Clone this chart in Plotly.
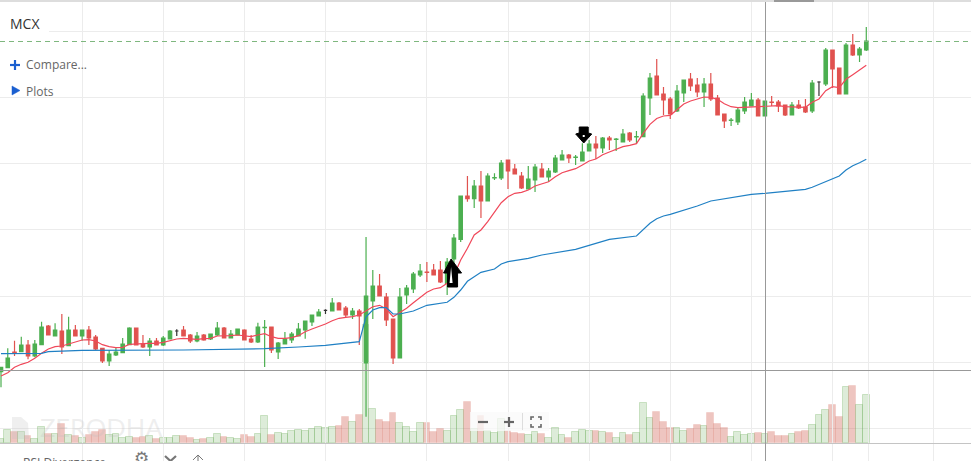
import plotly.graph_objects as go

W = 971
H = 461

# candles, no price labels in the original so units are just chart units
open_ = [-1.7, 2.3, 18, 18.3, 25, 14, 25.3, 44, 34, 39,
         24.3, 40, 34, 40, 33, 21.7, 9, 15, 17.3, 25.3,
         42, 26, 23, 29, 25, 31, 39, 40, 35, 29,
         35, 31, 35, 42, 32, 35, 40, 31, 28, 42.3,
         43, 18, 26, 30, 34, 40, 48, 54, 59.7, 59,
         67, 62, 55, 59, 7, 69, 84, 73, 51, 12,
         75, 81, 95, 98, 100, 100, 86.7, 111, 130.7, 174,
         171.3, 184, 169, 192, 192, 210, 201, 194, 181, 190,
         201, 193, 198, 210, 215, 212.7, 209, 219, 226, 222,
         232, 230.7, 228, 237, 233, 233.3, 272, 294, 276, 271,
         259, 277, 291, 285, 278, 286, 272, 256, 249.7, 248,
         259, 264, 270, 254, 268, 268, 265, 255, 265, 263,
         259, 288, 286, 320, 302, 276, 325, 315, 320]
close = [2.7, 12, 16.7, 25, 14, 26, 43, 35, 40, 23,
         40, 34, 40, 32, 21, 9, 16, 18, 26, 42,
         25, 23, 29, 25, 32, 39, 39, 34, 29, 34,
         30, 36, 42, 32, 36, 41, 30, 28, 43, 42.7,
         20, 27, 31, 36, 41, 49, 55, 58, 59.7, 67,
         60, 55, 59, 54, 74, 84, 74, 50, 12, 73,
         82, 96, 99, 97.5, 95, 88, 108, 132, 174, 171.3,
         184, 169, 194, 192.5, 207, 199, 196, 182, 191, 203,
         193, 199, 212, 215, 212, 213, 218, 226, 222, 232,
         230, 231, 236, 230, 233.3, 274, 292, 275, 270, 256,
         279, 290, 284, 278, 286, 271, 255, 249, 250, 260,
         268, 270, 254, 269, 267.5, 264, 255, 265, 262, 258,
         287, 288, 320, 301, 276, 325, 315, 321, 329]
high = [2.7, 21.7, 29.3, 33.3, 30, 30, 48.3, 45, 46.7, 56,
        53.3, 45, 40, 44, 35, 21.7, 20, 22.7, 32, 42.7,
        42, 35, 32, 32, 34, 40, 40.7, 44, 36, 38,
        36, 36, 48, 43, 40, 41, 40.7, 35, 47.3, 50,
        43, 28, 38, 38, 47, 49, 55, 61, 60.7, 72,
        68, 64, 62, 61, 133, 100, 96, 77, 51, 82,
        85, 98, 106, 108, 106, 109, 112, 136, 174, 194,
        190, 199, 196.7, 196.7, 210, 210, 206, 198, 204, 206,
        207, 202, 215, 220, 216, 215, 226.7, 230, 234, 233,
        234, 232, 241, 238, 239, 276.7, 297, 311, 283, 273,
        285, 290, 297, 292, 292, 297, 275, 256, 252, 262,
        273, 277, 272, 269, 274, 270, 265, 268, 270, 271,
        290, 288.7, 322, 320, 302, 327, 336, 323, 343]
low = [-17.3, 2.3, 14, 18.3, 10.7, 12.7, 25.3, 35, 34, 16,
       24, 34, 29.3, 25, 20, 7, 4, 14, 17.3, 25.3,
       25, 22, 14, 25, 24, 31, 34, 34, 27, 27.7,
       29.3, 30, 34, 32, 32, 35, 30, 27, 27, 3,
       17, 11, 26, 27, 34, 31.3, 44, 54, 56, 59,
       60, 53, 51, 25, -46.7, 51, 74, 44, 6, 12,
       66, 77, 93, 88, 95, 87, 75, 85, 128, 168.3,
       162, 152, 169, 190, 190, 181, 196, 181, 181, 178,
       193, 188, 197, 210, 207, 205, 209, 219, 211, 217,
       220, 219, 228, 228, 226, 233.3, 255, 275, 255, 251,
       258, 268, 279, 273, 263, 269, 255, 242, 244, 245,
       256, 264, 254, 254, 264, 258, 254, 255, 261, 257,
       257, 274, 284, 282, 276, 276, 314, 308, 319]
volume = [4.3, 13.3, 11, 11, 6.7, 4.3, 15.7, 9.3, 9.3, 18.7,
          8.3, 6.7, 5.3, 7.7, 11.3, 12.7, 7.7, 8.7, 5.3, 6,
          4.7, 5.7, 7.3, 3.7, 5.3, 5.3, 6.7, 6.7, 4.7, 3.3,
          4.3, 5.3, 9.3, 5.7, 4.7, 4.3, 7.7, 5.7, 9.3, 27.3,
          7.7, 10.3, 9.3, 12.3, 13.3, 12.3, 14, 16, 15, 16,
          17, 26, 21, 28, 118, 34, 23, 20.7, 30.3, 20,
          16, 11, 20.3, 20.3, 11, 14, 12, 27, 33, 41,
          14, 27, 12, 10, 24, 12, 10, 9, 8, 11,
          9, 5, 15, 8, 5, 11, 13, 12, 12, 11,
          10, 5, 10, 8, 10, 40, 25, 31, 21, 15,
          15, 12, 14, 18, 17, 30, 19, 15, 6, 11,
          8, 9, 10, 9, 11, 7, 7, 9, 11, 12,
          18, 28, 33, 38, 26, 56, 57, 38, 48]
fast_ma = [-6, -2.7, 2.7, 5.7, 7.7, 11.7, 16.7, 21, 23.3, 24,
           26, 28.3, 30, 30.3, 29, 25.3, 23.3, 22.3, 22.7, 25.7,
           26.3, 26.3, 26.7, 26.7, 27.7, 29.3, 31, 31.7, 31.3, 30.7,
           31.3, 31.7, 34, 34, 34.3, 35, 34, 33.3, 35, 36.3,
           33.3, 31.7, 31.7, 32.3, 34.3, 38.3, 41, 43.3, 46, 49.3,
           51.7, 52.7, 53.3, 55, 59.3, 63.3, 64.7, 61, 53.3, 57.3,
           61.7, 67.3, 72.7, 77.7, 81, 82.3, 86.7, 94.3, 110, 121.7,
           135, 140, 148.3, 158.3, 167.3, 173.3, 176.7, 177.7, 180, 184,
           186, 188.3, 193.3, 197.3, 199.3, 201.3, 205, 209, 211, 215.3,
           218, 220.7, 223.3, 224.7, 226.3, 236.7, 245.7, 251.5, 254, 254.7,
           260, 266, 269, 270.7, 273, 272.7, 270.7, 266.3, 263.3, 262.3,
           262.7, 263, 263.3, 264, 264.3, 264.3, 263.3, 263, 263, 262.7,
           267.7, 271, 279.3, 283.3, 282.3, 290.7, 295.3, 299.7, 304.7]
slow_x = [0, 6, 7, 12, 27, 39, 44, 48, 53, 54, 55, 56, 57, 58, 59, 61, 63, 66, 67, 68, 69,
          70, 71, 73, 74, 75, 78, 80, 81, 82, 85, 88, 90, 94, 95, 96, 97, 98, 99,
          103, 105, 106, 111, 113, 119, 120, 121, 123, 124, 125, 126, 127, 128]
slow_ma = [16.3, 16.7, 18.3, 19.7, 20, 21.3, 23, 24.7, 28.3, 53.3, 60, 62.3, 62.3, 56, 56, 59, 64.7, 67.7, 72.7, 80, 88.7,
           93.3, 97.7, 101, 106, 108.3, 111.7, 115, 116, 117.7, 120.7, 126.7, 130.7, 134, 140, 146.7, 151.3, 154, 155.7,
           164, 169, 170, 175.7, 176.7, 180.7, 182.7, 185.7, 191.7, 194, 200, 204.3, 207.3, 210.7]

# small black doji candles
black_idx = [26, 48, 121]
last_price = 328.5
up_signal = (66.8, 83)
down_signal = (86.2, 227)

grid_y = [339, 273, 207, 141, 74, 8]
grid_x = [0, 12, 24, 36, 48, 63, 75, 87, 99, 111, 123, 128.4, 138]

GREEN = '#4caf50'
RED = '#e0524f'
GRID = '#ececec'


def X(p):
    return p / W


def Y(p):
    return 1 - p / H


def line(x0, y0, x1, y1, color, width=1.0):
    return dict(type='line', xref='paper', yref='paper', x0=X(x0), y0=Y(y0), x1=X(x1), y1=Y(y1),
                line=dict(color=color, width=width))


def path(points, color, width=2.0, fill=None):
    d = 'M' + ' L'.join(f'{X(a):.5f},{Y(b):.5f}' for a, b in points)
    if fill:
        d += ' Z'
    return dict(type='path', xref='paper', yref='paper', path=d, fillcolor=fill or 'rgba(0,0,0,0)',
                line=dict(color=color, width=width))


def label(text, x, y, size, color, family='Open Sans', **kw):
    return dict(text=text, x=X(x), y=Y(y), xref='paper', yref='paper', showarrow=False,
                xanchor='left', yanchor='middle', font=dict(size=size, color=color, family=family), **kw)


idx = list(range(len(open_)))
normal = [i for i in idx if i not in black_idx]

fig = go.Figure()

vol_colors = ['rgba(100,170,80,0.22)' if close[i] >= open_[i] else 'rgba(205,90,75,0.35)' for i in idx]
vol_lines = ['rgba(100,170,80,0.28)' if close[i] >= open_[i] else 'rgba(205,90,75,0.12)' for i in idx]
fig.add_trace(go.Bar(x=idx, y=volume, width=1.0, yaxis='y', xaxis='x',
                     marker=dict(color=vol_colors, line=dict(color=vol_lines, width=1))))

fig.add_trace(go.Candlestick(x=normal,
                             open=[open_[i] for i in normal], high=[high[i] for i in normal],
                             low=[low[i] for i in normal], close=[close[i] for i in normal],
                             yaxis='y2', xaxis='x', whiskerwidth=0,
                             increasing=dict(line=dict(color=GREEN, width=1.2), fillcolor=GREEN),
                             decreasing=dict(line=dict(color=RED, width=1.2), fillcolor=RED)))
fig.add_trace(go.Candlestick(x=black_idx,
                             open=[open_[i] for i in black_idx], high=[high[i] for i in black_idx],
                             low=[low[i] for i in black_idx], close=[close[i] for i in black_idx],
                             yaxis='y2', xaxis='x', whiskerwidth=0,
                             increasing=dict(line=dict(color='#333333', width=1.2), fillcolor='#333333'),
                             decreasing=dict(line=dict(color='#333333', width=1.2), fillcolor='#333333')))

fig.add_trace(go.Scatter(x=idx, y=fast_ma, mode='lines', yaxis='y2', xaxis='x',
                         line=dict(color='#f0485a', width=1.2)))
fig.add_trace(go.Scatter(x=slow_x, y=slow_ma, mode='lines', yaxis='y2', xaxis='x',
                         line=dict(color='#2080c4', width=1.2)))

shapes = []
# frame, panel separators and crosshair
shapes.append(line(0, 1, W, 1, '#dddddd', 2))
shapes.append(line(774, 1, 814, 1, '#999999', 2))
shapes.append(line(0, 370.5, W, 370.5, '#999999', 1))
shapes.append(line(0, 443.5, W, 443.5, '#c4c4c4', 1.2))
shapes.append(line(765.5, 2, 765.5, H, '#999999', 1))
shapes.append(dict(type='line', xref='paper', yref='y2', x0=0, x1=1, y0=last_price, y1=last_price,
                   line=dict(color='#7fb77f', width=1, dash='5px,4px')))
# white box behind the symbol name
shapes.append(dict(type='rect', xref='paper', yref='paper', x0=0, x1=X(49), y0=Y(33), y1=Y(2.5),
                   fillcolor='white', line=dict(width=0)))

# signal arrows
shapes.append(dict(type='path', xref='x', yref='y2', xsizemode='pixel', ysizemode='pixel',
                   xanchor=up_signal[0], yanchor=up_signal[1],
                   path='M-1.5,28 L-9,14 L-5,14 L-5,0 L5,0 L5,14 L9,14 Z',
                   fillcolor='black', line=dict(color='black', width=1)))
shapes.append(dict(type='path', xref='x', yref='y2', xsizemode='pixel', ysizemode='pixel',
                   xanchor=up_signal[0], yanchor=up_signal[1],
                   path='M-1.5,20 L-3,4 L0,4 Z', fillcolor='white', line=dict(width=0)))
shapes.append(dict(type='path', xref='x', yref='y2', xsizemode='pixel', ysizemode='pixel',
                   xanchor=down_signal[0], yanchor=down_signal[1],
                   path='M0,0 L-8,9 L-4.5,10 L-4.5,16 L4.5,16 L4.5,10 L8,9 Z',
                   fillcolor='black', line=dict(color='black', width=1)))
shapes.append(dict(type='rect', xref='x', yref='y2', xsizemode='pixel', ysizemode='pixel',
                   xanchor=down_signal[0], yanchor=down_signal[1], x0=-1, x1=1, y0=6, y1=8,
                   fillcolor='white', line=dict(width=0)))

# left hand controls
shapes.append(line(10, 65, 20, 65, '#1a5fd0', 2.2))
shapes.append(line(15, 60, 15, 70, '#1a5fd0', 2.2))
shapes.append(path([(12, 86), (20, 90.5), (12, 95)], '#1a5fd0', 0.5, '#1a5fd0'))

# watermark logo
shapes.append(path([(12, 417), (21, 417), (28, 423), (29, 439), (12, 439)], 'rgba(0,0,0,0)', 0, 'rgba(190,190,190,0.25)'))

# zoom buttons
shapes.append(dict(type='rect', xref='paper', yref='paper', x0=X(470), x1=X(549), y0=Y(431), y1=Y(412),
                   fillcolor='rgba(250,250,250,0.75)', line=dict(width=0)))
shapes.append(line(478, 422, 488, 422, '#666666', 2.2))
shapes.append(line(504, 422, 514, 422, '#666666', 2.2))
shapes.append(line(509, 417, 509, 427, '#666666', 2.2))
shapes.append(line(522.5, 413, 522.5, 430, '#dddddd', 1))
for sx, sy in [(-1, -1), (1, -1), (-1, 1), (1, 1)]:
    shapes.append(path([(536 + sx * 5, 422 + sy * 2), (536 + sx * 5, 422 + sy * 5), (536 + sx * 2, 422 + sy * 5)], '#666666', 1.6))

# bottom toolbar icons
shapes.append(path([(165, 456), (170.5, 461), (176, 456)], '#777777', 2.2))
shapes.append(path([(193, 460), (198, 455), (203, 460)], '#777777', 1))
shapes.append(line(198, 455, 198, 461, '#777777', 1))

annotations = [
    label('MCX', 7.5, 24, 14, '#333333'),
    label('Compare...', 24, 65, 12, '#666666'),
    label('Plots', 24, 91.5, 12, '#666666'),
    label('ZERODHA', 38, 427, 25.5, 'rgba(190,190,190,0.25)', family='Lato'),
    label('RSI Divergence', 20.5, 462, 12, '#666666'),
    label('⚙', 132, 458, 17, '#777777', family='DejaVu Sans'),
]

fig.update_layout(
    width=W, height=H,
    margin=dict(l=0, r=0, t=0, b=0),
    paper_bgcolor='white', plot_bgcolor='rgba(0,0,0,0)',
    showlegend=False, hovermode=False,
    boxgap=0.28, bargap=0,
    shapes=shapes, annotations=annotations,
    xaxis=dict(domain=[0, 1], range=[-0.148, 143.49], anchor='y2', tickmode='array', tickvals=grid_x,
               showticklabels=False, ticks='', showgrid=True, gridcolor=GRID, gridwidth=1.2,
               zeroline=False, showline=False, rangeslider=dict(visible=False)),
    # volume pane, the tallest bar runs up past the separator
    yaxis=dict(domain=[18 / H, 161 / H], range=[0, 143], tickmode='array', tickvals=[15],
               showticklabels=False, ticks='', showgrid=True, gridcolor=GRID, gridwidth=1.2,
               zeroline=False, showline=False, anchor='free', position=0),
    yaxis2=dict(domain=[0, 1], range=[-91, 370], tickmode='array', tickvals=grid_y,
                showticklabels=False, ticks='', showgrid=True, gridcolor=GRID, gridwidth=1.2,
                zeroline=False, showline=False, anchor='x'),
)

fig.write_html("out.html", config=dict(displayModeBar=False), post_script="document.body.style.margin='0';")
